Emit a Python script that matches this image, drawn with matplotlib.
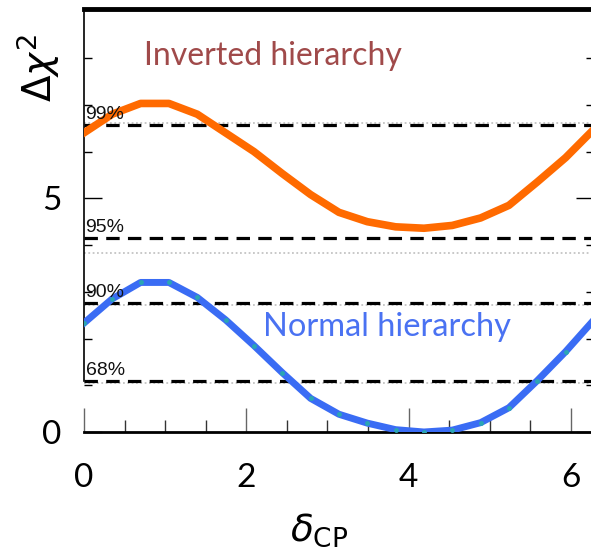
import numpy as np
import matplotlib
matplotlib.use("Agg")
import matplotlib.pyplot as plt

# delta_CP grid (19 points over one period) and delta chi^2
dcp = np.linspace(0, 2 * np.pi, 19)
ih = [6.40, 6.80, 7.03, 7.03, 6.80, 6.40, 6.00, 5.53, 5.08, 4.70,
      4.50, 4.39, 4.36, 4.42, 4.58, 4.85, 5.35, 5.87, 6.48]
nh = [2.33, 2.85, 3.20, 3.20, 2.88, 2.40, 1.85, 1.27, 0.72, 0.38,
      0.19, 0.05, 0.00, 0.04, 0.20, 0.52, 1.10, 1.72, 2.40]

cl_labels = ["99%", "95%", "90%", "68%"]
cl_dashed = [6.56, 4.15, 2.76, 1.09]
cl_dotted = [6.62, 3.84, 2.71, 1.05]

plt.rcParams["font.family"] = ["Lato", "DejaVu Sans"]
plt.rcParams["mathtext.fontset"] = "dejavusans"

fig = plt.figure(figsize=(5.91, 5.58), dpi=100)
ax = fig.add_axes([0.142, 0.2258, 0.863, 0.758])

for yd, yk, lab in zip(cl_dotted, cl_dashed, cl_labels):
    ax.axhline(yd, color="#c4c4c4", lw=1.3, ls=(0, (1, 1.4)), zorder=1)
    ax.axhline(yk, color="black", lw=2.3, ls=(0, (4.2, 2.6)), zorder=2)
    ax.text(0.02, yk + 0.05, lab, fontsize=14, color="#111111", va="bottom",
            ha="left", family=["Liberation Sans", "DejaVu Sans"], zorder=4)

ax.plot(dcp, ih, color="#ff6a00", lw=5.5, solid_joinstyle="round", zorder=3)
ax.plot(dcp, nh, color="#3a6cf4", lw=5, marker="o", ms=2.5,
        mfc="#2aa6b4", mec="#2aa6b4", solid_joinstyle="round", zorder=3)

ax.text(0.74, 8.05, "Inverted hierarchy", color="#a04a4a", fontsize=23,
        va="center", ha="left")
ax.text(2.2, 2.25, "Normal hierarchy", color="#4a72f2", fontsize=23.5,
        va="center", ha="left")

ax.set_xlim(0, 2 * np.pi)
ax.set_ylim(0, 9.05)

ax.set_xticks([0, 2, 4, 6])
ax.set_xticks(np.arange(0.5, 6.3, 0.5), minor=True)
ax.set_yticks([0, 5])
ax.set_yticks([1, 2, 3, 4, 6, 7, 8], minor=True)

ax.tick_params(axis="x", which="major", direction="in", length=17, width=1,
               color="#666666", labelsize=24, pad=22)
ax.tick_params(axis="x", which="minor", direction="in", length=8.5, width=1,
               color="#333333")
ax.tick_params(axis="y", which="major", direction="in", length=13, width=1,
               labelsize=24, pad=16, right=True)
ax.tick_params(axis="y", which="minor", direction="in", length=6, width=1,
               right=True)

ax.spines["right"].set_visible(False)
ax.spines["top"].set_linewidth(3.5)
ax.spines["bottom"].set_linewidth(2)
ax.spines["left"].set_linewidth(1.2)
ax.spines["left"].set_bounds(1.1, 9.05)

fig.text(0.064, 0.878, r"$\Delta\chi^2$", rotation=90, fontsize=28,
         ha="center", va="center")
fig.text(0.54, 0.05, r"$\delta_{\rm CP}$", fontsize=27, ha="center", va="center")

fig.savefig("out.png", dpi=100)
